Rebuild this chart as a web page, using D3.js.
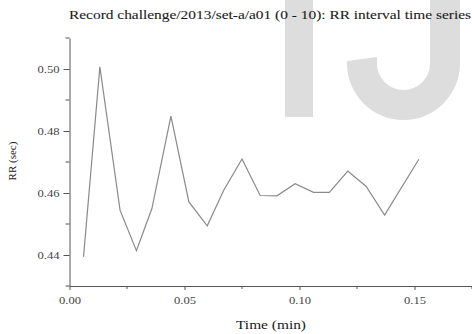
<!DOCTYPE html>
<html>
<head>
<meta charset="utf-8">
<script src="https://cdn.jsdelivr.net/npm/d3@7"></script>
<style>
  html, body { margin: 0; padding: 0; background: #fff; }
  svg { display: block; font-family: "Liberation Serif", "DejaVu Serif", serif; }
</style>
</head>
<body>
<svg id="chart" width="472" height="334"></svg>
<script>
// RR interval series for record a01, first 10 beats window
const timeMin = [0.0061, 0.0132, 0.0220, 0.0291, 0.0358, 0.0441, 0.0519, 0.0599, 0.0670,
                 0.0750, 0.0829, 0.0902, 0.0981, 0.1061, 0.1130, 0.1210, 0.1290, 0.1370, 0.1519];
const rrSec   = [0.4394, 0.5007, 0.4544, 0.4414, 0.4549, 0.4848, 0.4571, 0.4494, 0.4608,
                 0.4710, 0.4592, 0.4591, 0.4630, 0.4602, 0.4602, 0.4671, 0.4621, 0.4529, 0.4709];

const xMajorTicks = [0.00, 0.05, 0.10, 0.15];
const xMinorTicks = [0.025, 0.075, 0.125, 0.175];
const yMajorTicks = [0.44, 0.46, 0.48, 0.50];
const yMinorTicks = [0.43, 0.45, 0.47, 0.49, 0.51];

const titleText = "Record challenge/2013/set-a/a01 (0 - 10): RR interval time series";
const xTitle = "Time (min)";
const yTitle = "RR (sec)";

const svg = d3.select("#chart");

const x = d3.scaleLinear().domain([0, 0.175]).range([69.5, 472]);
const y = d3.scaleLinear().domain([0.43, 0.51]).range([286, 38]);

// light grey logo shapes in the background
const wm = svg.append("g").attr("fill", "#dddddd");
wm.append("rect").attr("x", 285).attr("y", 0).attr("width", 28).attr("height", 117);
wm.append("path").attr("d",
  "M430,0 L460,0 L460,63.5 A56.5,56.5 0 0 1 347,63.5 L347,61 L377,57 L377,63.5 A26.5,26.5 0 0 0 430,63.5 Z");

// title
svg.append("text")
  .attr("x", 270).attr("y", 18.5)
  .attr("text-anchor", "middle")
  .attr("font-size", 11.5)
  .attr("fill", "#1a1a1a")
  .attr("stroke", "#1a1a1a").attr("stroke-width", 0.08)
  .attr("textLength", 402)
  .attr("lengthAdjust", "spacingAndGlyphs")
  .text(titleText);

const axisColor = "#555";
const tickFont = "'Liberation Serif', serif";

// x axis
const xAxis = svg.append("g").attr("transform", `translate(0,${y(0.43)})`);
xAxis.call(d3.axisBottom(x).tickValues(xMajorTicks).tickFormat(d3.format(".2f")).tickSize(4).tickSizeOuter(0));
xAxis.call(g => g.selectAll(".minor").data(xMinorTicks).enter().append("line")
  .attr("class", "minor").attr("x1", d => x(d)).attr("x2", d => x(d))
  .attr("y1", 0).attr("y2", 3).attr("stroke", axisColor));
xAxis.select(".domain").attr("stroke", axisColor);
xAxis.selectAll(".tick line").attr("stroke", axisColor);
xAxis.selectAll(".tick text").attr("font-family", tickFont)
  .attr("font-size", 10).attr("fill", "#444").attr("dy", null).attr("y", 18)
  .attr("textLength", 22).attr("lengthAdjust", "spacingAndGlyphs");

// y axis
const yAxis = svg.append("g").attr("transform", `translate(${x(0)},0)`);
yAxis.call(d3.axisLeft(y).tickValues(yMajorTicks).tickFormat(d3.format(".2f")).tickSize(6).tickSizeOuter(0));
yAxis.call(g => g.selectAll(".minor").data(yMinorTicks).enter().append("line")
  .attr("class", "minor").attr("x1", 0).attr("x2", -4)
  .attr("y1", d => y(d)).attr("y2", d => y(d)).attr("stroke", axisColor));
yAxis.select(".domain").attr("stroke", axisColor);
yAxis.selectAll(".tick line").attr("stroke", axisColor);
yAxis.selectAll(".tick text").attr("font-family", tickFont)
  .attr("font-size", 10).attr("fill", "#444").attr("x", -10)
  .attr("textLength", 22).attr("lengthAdjust", "spacingAndGlyphs");

// axis titles
svg.append("text")
  .attr("x", 271).attr("y", 329)
  .attr("text-anchor", "middle")
  .attr("font-size", 11.5).attr("fill", "#1a1a1a")
  .attr("textLength", 70).attr("lengthAdjust", "spacingAndGlyphs")
  .text(xTitle);

svg.append("text")
  .attr("transform", `translate(16,161) rotate(-90)`)
  .attr("text-anchor", "middle")
  .attr("font-size", 11).attr("fill", "#222")
  .text(yTitle);

// RR series line
const line = d3.line().x((d, i) => x(timeMin[i])).y(d => y(d));
svg.append("path")
  .datum(rrSec)
  .attr("fill", "none")
  .attr("stroke", "#8a8a8a")
  .attr("stroke-width", 1.2)
  .attr("stroke-linejoin", "miter")
  .attr("d", line);
</script>
</body>
</html>
